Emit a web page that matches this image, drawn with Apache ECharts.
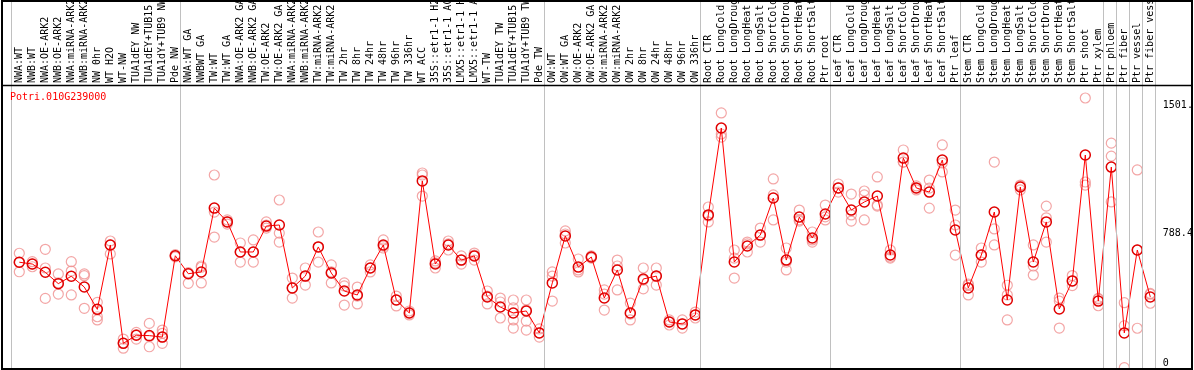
<!DOCTYPE html>
<html><head><meta charset="utf-8">
<script src="https://cdn.jsdelivr.net/npm/echarts@6/dist/echarts.min.js"></script>
<style>html,body{margin:0;padding:0;background:#fff}#c{width:1194px;height:370px}</style>
</head><body><div id="c"></div>
<script>
const geneName = 'Potri.010G239000';
const categories = [
 'NWA:WT','NWB:WT','NWA:OE-ARK2','NWB:OE-ARK2','NWA:miRNA-ARK2','NWB:miRNA-ARK2','NW 0hr','WT H2O','WT-NW','TUA1dEY NW','TUA1dEY+TUB15 NW','TUA1dY+TUB9 NW','Pde NW',
 'NWA:WT GA','NWBWT GA','TW:WT','TW:WT GA','NWA:OE-ARK2 GA','NWB:OE-ARK2 GA','TW:OE-ARK2','TW:OE-ARK2 GA','NWA:miRNA-ARK2','NWB:miRNA-ARK2','TW:miRNA-ARK2','TW:miRNA-ARK2','TW 2hr','TW 8hr','TW 24hr','TW 48hr','TW 96hr','TW 336hr','WT ACC','35S::etr1-1 H2O','35S::etr1-1 ACC','LMX5::etr1-1 H2O','LMX5::etr1-1 ACC','WT-TW','TUA1dEY TW','TUA1dEY+TUB15 TW','TUA1dY+TUB9 TW','Pde TW',
 'OW:WT','OW:WT GA','OW:OE-ARK2','OW:OE-ARK2 GA','OW:miRNA-ARK2','OW:miRNA-ARK2','OW 2hr','OW 8hr','OW 24hr','OW 48hr','OW 96hr','OW 336hr',
 'Root CTR','Root LongCold','Root LongDrought','Root LongHeat','Root LongSalt','Root ShortCold','Root ShortDrought','Root ShortHeat','Root ShortSalt','Ptr root',
 'Leaf CTR','Leaf LongCold','Leaf LongDrought','Leaf LongHeat','Leaf LongSalt','Leaf ShortCold','Leaf ShortDrought','Leaf ShortHeat','Leaf ShortSalt','Ptr leaf',
 'Stem CTR','Stem LongCold','Stem LongDrought','Stem LongHeat','Stem LongSalt','Stem ShortCold','Stem ShortDrought','Stem ShortHeat','Stem ShortSalt','Ptr shoot','Ptr xylem',
 'Ptr phloem','Ptr fiber','Ptr vessel','Ptr fiber vessel'
];
const meanValues = [
 588,578,532,469,510,450,326,684,137,182,180,172,624,
 524,534,889,812,645,645,789,795,445,511,673,528,428,406,556,684,378,306,1040,578,684,600,623,395,339,306,317,195,
 473,734,561,617,389,545,306,495,511,256,245,295,
 851,1334,589,678,739,945,600,839,723,856,
 1001,878,923,956,628,1167,1001,978,1156,767,
 445,628,867,378,1006,589,812,328,484,1184,372,
 1117,195,656,395
];
const replicateValues = [
 [638,588,535],[591,578,563],[660,556,387],[523,473,411],[591,539,406],[523,513,332],[365,326,285,267],[706,684,634],[161,139,110],[198,185,161],[248,175,118],[211,193,172,137],[630,624,618],
 [530,526,471],[567,560,473],[1073,867,728],[823,812,800],[695,645,589],[712,645,589],[812,795,778],[934,750,700],[500,445,389],[556,511,461],[756,673,589],[573,534,473],[473,456,350],[450,400,356],[573,556,534],[712,678,667],[400,378,345],[317,306,295],[1084,1073,956],[595,584,556],[706,690,656],[623,600,578],[639,628,600],[428,400,356],[389,367,278],[378,334,267,222],[378,322,261,211],[217,195,172],
 [534,511,372],[762,745,695],[606,545,534],[623,617,611],[434,411,322],[600,567,434],[361,300,267],[556,489,440],[556,511,461],[267,256,239],[267,245,222],[311,295,278],
 [895,845,812],[1418,1301,1284],[656,611,500],[700,690,645],[778,739,700],[1051,962,823],[667,589,545],[878,823,817],[756,712,700],[906,840,823],
 [1023,1001,978],[967,851,817],[984,962,823],[1062,906,900],[656,617,611],[1212,1145,1145],[1012,1001,990],[1045,1000,889],[1240,1140,1090],[878,795,628],
 [467,461,406],[667,628,589],[1145,773,684],[460,406,267],[1017,1012,990],[684,567,517],[900,835,700],[389,372,222],[514,484,458],[1501,1034,1017],[387,384,346],
 [1250,1178,923],[363,235,2],[1101,656,221],[415,410,360]
];
const groupBoundaries = [0,13,41,53,63,73,84,85,86,87,88];
const yTickValues = [0, 788.4, 1501];
const yTickLabels = ['0','788.4','1501.'];
const yMax = 1501;

const MONO = "'DejaVu Sans Mono', 'Liberation Mono', monospace";
const repPoints = [];
replicateValues.forEach((arr, i) => arr.forEach(v => repPoints.push([i, v])));

const chart = echarts.init(document.getElementById('c'), null, {renderer: 'canvas'});
chart.setOption({
  animation: false,
  backgroundColor: '#fff',
  title: {text: geneName, left: 10, top: 92, padding: 0,
    textStyle: {color: '#ff0000', fontSize: 10, fontWeight: 'normal', fontFamily: MONO}},
  grid: [
    {left: 12.8, right: 37.2, top: 98, bottom: 2, outerBoundsMode: 'none', containLabel: false},
    {left: 11.3, right: 38.7, top: 0, bottom: 1, outerBoundsMode: 'none', containLabel: false}
  ],
  xAxis: [
    {type: 'category', gridIndex: 0, data: categories, position: 'top', boundaryGap: true,
      axisLine: {show: false}, axisTick: {show: false}, splitLine: {show: false},
      axisLabel: {interval: 0, rotate: 90, margin: 15, fontSize: 10, fontFamily: MONO, color: '#000'}},
    {type: 'value', gridIndex: 1, min: -0.5, max: categories.length - 0.5, show: false}
  ],
  yAxis: [
    {type: 'value', gridIndex: 0, min: 0, max: yMax, position: 'right',
      axisLine: {show: false}, axisTick: {show: false}, splitLine: {show: false},
      axisLabel: {customValues: yTickValues,
        formatter: function (v) {
          for (let k = 0; k < yTickValues.length; k++) if (Math.abs(yTickValues[k] - v) < 1e-6) return yTickLabels[k];
          return '';
        },
        align: 'left', margin: 6, verticalAlign: 'top', verticalAlignMinLabel: 'bottom',
        padding: [2, 0, 0, 0], fontSize: 10, fontFamily: MONO, color: '#000'}},
    {type: 'value', gridIndex: 1, min: 0, max: 1, show: false}
  ],
  graphic: [
    {type: 'rect', silent: true, z: 100, shape: {x: 2, y: 1, width: 1190, height: 368},
      style: {fill: 'none', stroke: '#000', lineWidth: 2}},
    {type: 'line', silent: true, z: 100, shape: {x1: 2, y1: 85.5, x2: 1192, y2: 85.5},
      style: {stroke: '#000', lineWidth: 1.5}}
  ],
  series: [
    {type: 'line', xAxisIndex: 1, yAxisIndex: 1, data: [[-0.5, 0]], showSymbol: false, silent: true, z: 1,
      lineStyle: {width: 0},
      markLine: {silent: true, symbol: ['none', 'none'], label: {show: false}, animation: false,
        lineStyle: {color: '#c0c0c0', width: 1, type: 'solid'},
        emphasis: {disabled: true},
        data: groupBoundaries.map(b => ({xAxis: b - 0.5}))}},
    {type: 'scatter', xAxisIndex: 0, yAxisIndex: 0, data: repPoints, symbol: 'circle', symbolSize: 10, silent: true, z: 2,
      itemStyle: {color: 'rgba(0,0,0,0)', borderColor: '#f09090', borderWidth: 1.2}},
    {type: 'line', xAxisIndex: 0, yAxisIndex: 0, data: meanValues, symbol: 'circle', symbolSize: 10, showAllSymbol: true, silent: true, z: 3,
      lineStyle: {color: '#ff0000', width: 1},
      itemStyle: {color: 'rgba(0,0,0,0)', borderColor: '#e00000', borderWidth: 1.5}}
  ]
});
</script></body></html>
